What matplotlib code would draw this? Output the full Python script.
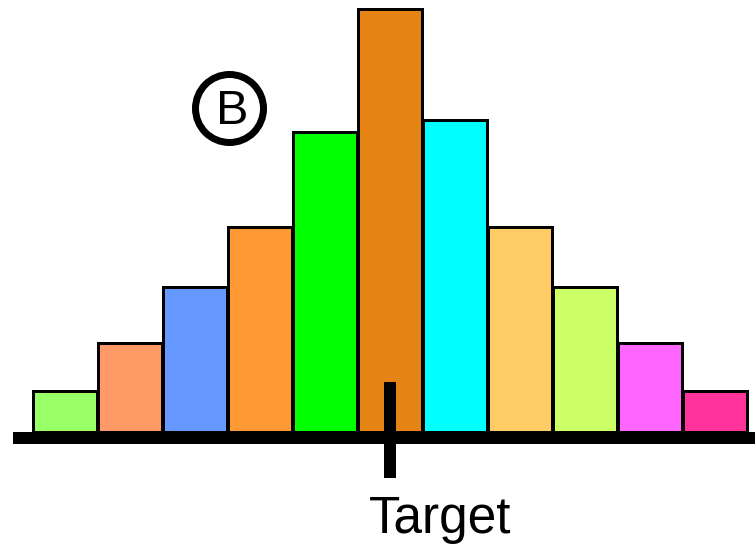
import matplotlib
matplotlib.use("Agg")
import matplotlib.pyplot as plt

plt.rcParams['font.family'] = ['Liberation Sans', 'DejaVu Sans']

# Histogram bins around the target value
bins = list(range(11))
counts = [4.1, 8.9, 14.5, 20.5, 30.0, 42.3, 31.2, 20.5, 14.5, 8.9, 4.1]
colors = ['#99ff66', '#ff9966', '#6699ff', '#ff9933', '#00ff00', '#e58314',
          '#00ffff', '#ffcc66', '#ccff66', '#ff66ff', '#ff3399']
target = 5
target_label = "Target"
panel_label = "B"

dpi = 100
fig = plt.figure(figsize=(7.55, 5.48), dpi=dpi)
ax = fig.add_axes([0, 0, 1, 1])
ax.set_xlim(-1.0, 10.615)
ax.set_ylim(-11.6, 43.2)
ax.axis('off')

px = 72 / dpi  # points per pixel

ax.bar(bins, counts, width=0.985, color=colors, edgecolor='black',
       linewidth=3 * px, zorder=2)

# Baseline axis
ax.plot([-0.8, 10.615], [-0.6, -0.6], color='black', linewidth=12 * px,
        solid_capstyle='butt', zorder=3)

# Target tick mark
ax.plot([target, target], [-4.6, 5.0], color='black', linewidth=12 * px,
        solid_capstyle='butt', zorder=4)
ax.text(target - 0.33, -10.1, target_label, fontsize=37, ha='left',
        va='baseline', color='black')

# Circled panel letter
ax.plot([2.53], [32.4], marker='o', markersize=68 * px, markerfacecolor='none',
        markeredgecolor='black', markeredgewidth=7 * px, zorder=5)
ax.text(2.57, 30.8, panel_label, fontsize=35, ha='center', va='baseline',
        color='black', zorder=5)

fig.savefig("out.png", dpi=dpi)
